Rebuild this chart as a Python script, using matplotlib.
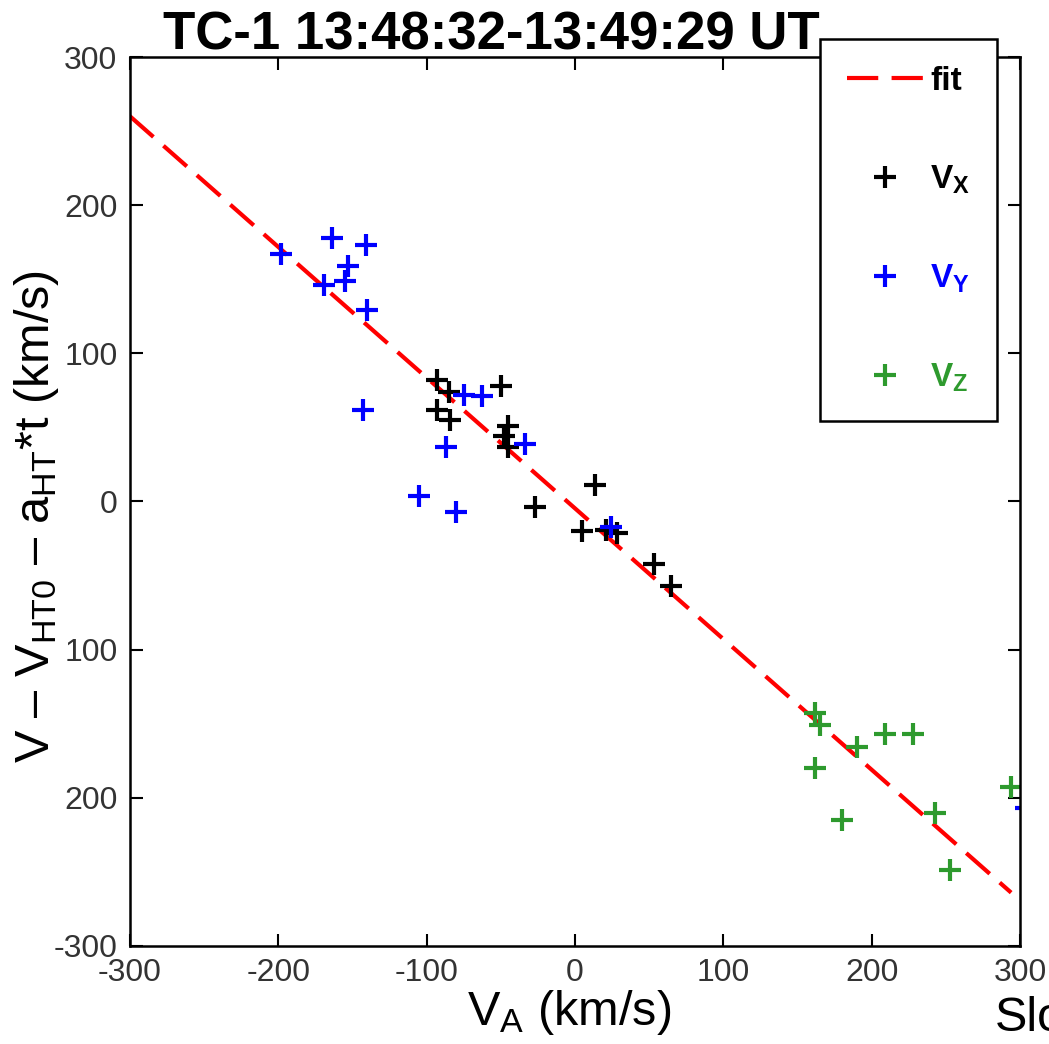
import matplotlib
matplotlib.use('Agg')
import matplotlib.pyplot as plt

plt.rcParams['font.family'] = ['Liberation Sans', 'DejaVu Sans']
plt.rcParams['mathtext.fontset'] = 'custom'
plt.rcParams['mathtext.rm'] = 'Liberation Sans'
plt.rcParams['mathtext.it'] = 'Liberation Sans:italic'
plt.rcParams['mathtext.bf'] = 'Liberation Sans:bold'

# values
vx_a = [-93, -85, -50, -93, -84, -45, -48, -45, 13.5, -27, 5, 21, 28, 53, 65]
vx_v = [82, 74, 78, 62, 55, 51, 44, 37, 11, -4, -20, -19, -21, -42, -57]

vy_a = [-198, -164, -141, -153, -155, -169, -140, -143, -75, -63, -87, -34, -105, -80, 24, 304]
vy_v = [167, 178, 173, 159, 149, 146, 129, 62, 72, 71, 37, 39, 4, -7, -17, -207]

vz_a = [162, 165, 209, 228, 190, 162, 294, 243, 180, 253]
vz_v = [-143, -151, -157, -157, -166, -180, -193, -210, -215, -249]

fit_a = [-300, 294]
fit_v = [260, -264]

ticks = [-300, -200, -100, 0, 100, 200, 300]
xtick_labels = ['-300', '-200', '-100', '0', '100', '200', '300']
ytick_labels = ['-300', '200', '100', '0', '100', '200', '300']

fig = plt.figure(figsize=(10.49, 10.44), dpi=100)
ax = fig.add_axes([0.1239, 0.0939, 0.8485, 0.8515])

green = '#2e9a2e'
fit_line, = ax.plot(fit_a, fit_v, color='red', lw=3, dashes=(7.5, 3.2))
ms, mew = 16.5, 3.0
hx, = ax.plot(vx_a, vx_v, '+', color='black', ms=ms, mew=mew, ls='none')
hy, = ax.plot(vy_a, vy_v, '+', color='blue', ms=ms, mew=mew, ls='none')
hz, = ax.plot(vz_a, vz_v, '+', color=green, ms=ms, mew=mew, ls='none')

ax.set_xlim(-300, 300)
ax.set_ylim(-300, 300)
ax.set_xticks(ticks)
ax.set_xticklabels(xtick_labels)
ax.set_yticks(ticks)
ax.set_yticklabels(ytick_labels)
ax.tick_params(direction='in', length=9, width=1.5, top=True, right=True,
               labelsize=23, labelcolor='#333333', pad=9)
for s in ax.spines.values():
    s.set_linewidth(1.8)

ax.set_xlabel(r'$\mathrm{V_A}$ (km/s)', fontsize=35)
ax.xaxis.set_label_coords(0.494, -0.047)
ax.set_ylabel(r'V – $\mathrm{V_{HT0}}$ – $\mathrm{a_{HT}}$*t (km/s)', fontsize=35)
ax.yaxis.set_label_coords(-0.078, 0.483)

fig.text(0.468, 1 - 50 / 1044, 'TC-1 13:48:32-13:49:29 UT', ha='center',
         va='baseline', fontsize=38, fontweight='bold')
fig.text(0.948, 0.012, 'Slope', fontsize=35, va='baseline')

leg = ax.legend([fit_line, hx, hy, hz],
                ['fit', r'$\mathbf{V_X}$', r'$\mathbf{V_Y}$', r'$\mathbf{V_Z}$'],
                loc='upper right', bbox_to_anchor=(0.9504, 1 - 39 / 1044),
                bbox_transform=fig.transFigure, fancybox=False, framealpha=1,
                edgecolor='black', prop={'size': 24, 'weight': 'bold'},
                handlelength=2.3, handletextpad=0.2, labelspacing=2.0,
                borderpad=0.8, borderaxespad=0)
leg.get_frame().set_linewidth(1.8)
for t, c in zip(leg.get_texts(), ['black', 'black', 'blue', green]):
    t.set_color(c)

fig.savefig('out.png', dpi=100)
